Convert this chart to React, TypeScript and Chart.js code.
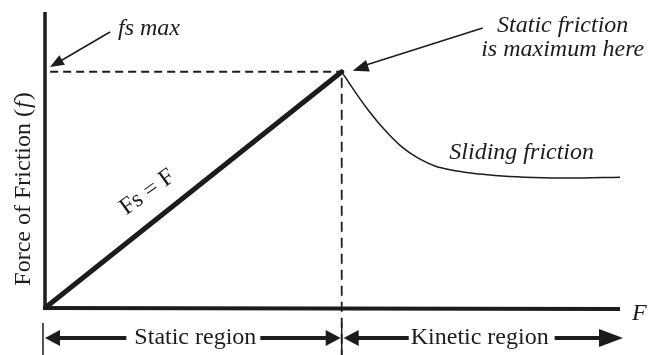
import { useEffect, useRef } from "react";
import { Chart, registerables } from "chart.js";

Chart.register(...registerables);

// ---- data ----
const staticForce = [0, 5.16];
const staticFrictionValues = [0, 7.98];
const slidingForce = [5.16, 5.39, 5.62, 5.91, 6.2, 6.49, 6.78, 7.07, 7.36, 7.65, 7.95, 8.5, 9.1, 10.0];
const slidingFrictionValues = [7.98, 7.31, 6.69, 6.01, 5.45, 5.06, 4.8, 4.66, 4.57, 4.51, 4.46, 4.41, 4.39, 4.42];
const fsMax = 7.98;
const peakForce = 5.16;
const xMax = 10;
const yMax = 10;
const dashBottom = -1.6;

const yAxisTitle = ["Force of Friction (", "f", ")"];
const xAxisTitle = "F";
const fsMaxLabel = "fs max";
const peakLabel = ["Static friction", "is maximum here"];
const slidingLabel = "Sliding friction";
const lineLabel = "Fs = F";
const regionLabels = ["Static region", "Kinetic region"];

const INK = "#1c1c1c";
const SERIF = '"Liberation Serif", "Times New Roman", serif';

function arrowHead(ctx: CanvasRenderingContext2D, tx: number, ty: number, fx: number, fy: number, len: number, half: number) {
  const a = Math.atan2(ty - fy, tx - fx);
  const bx = tx - len * Math.cos(a);
  const by = ty - len * Math.sin(a);
  ctx.beginPath();
  ctx.moveTo(tx, ty);
  ctx.lineTo(bx + half * Math.sin(a), by - half * Math.cos(a));
  ctx.lineTo(bx - half * Math.sin(a), by + half * Math.cos(a));
  ctx.closePath();
  ctx.fill();
}

const decorPlugin = {
  id: "decor",
  afterDatasetsDraw(chart: any) {
    const ctx: CanvasRenderingContext2D = chart.ctx;
    const { left, right, top, bottom } = chart.chartArea;
    const xs = chart.scales.x;
    const ys = chart.scales.y;
    const px = xs.getPixelForValue(peakForce);
    const py = ys.getPixelForValue(fsMax);
    ctx.save();
    ctx.fillStyle = INK;
    ctx.strokeStyle = INK;
    ctx.lineCap = "butt";

    // axes
    ctx.lineWidth = 3.5;
    ctx.beginPath();
    ctx.moveTo(left, top);
    ctx.lineTo(left, bottom + 1);
    ctx.stroke();
    ctx.lineWidth = 4;
    ctx.beginPath();
    ctx.moveTo(left - 2, bottom);
    ctx.lineTo(right, bottom + 1);
    ctx.stroke();

    // x axis title
    ctx.font = `italic 24px ${SERIF}`;
    ctx.textAlign = "left";
    ctx.textBaseline = "alphabetic";
    ctx.fillText(xAxisTitle, right + 12, bottom + 12);

    // y axis title (rotated)
    ctx.save();
    ctx.translate(left - 15, (top + bottom) / 2 + 30);
    ctx.rotate(-Math.PI / 2);
    ctx.font = `24px ${SERIF}`;
    const w0 = ctx.measureText(yAxisTitle[0]).width;
    ctx.font = `italic 24px ${SERIF}`;
    const w1 = ctx.measureText(yAxisTitle[1]).width;
    ctx.font = `24px ${SERIF}`;
    const w2 = ctx.measureText(yAxisTitle[2]).width;
    let cx = -(w0 + w1 + w2) / 2;
    ctx.fillText(yAxisTitle[0], cx, 0);
    cx += w0;
    ctx.font = `italic 24px ${SERIF}`;
    ctx.fillText(yAxisTitle[1], cx + 1, 0);
    cx += w1 + 2;
    ctx.font = `24px ${SERIF}`;
    ctx.fillText(yAxisTitle[2], cx, 0);
    ctx.restore();

    // fs max label + arrow
    ctx.font = `italic 24px ${SERIF}`;
    ctx.textAlign = "left";
    ctx.fillText(fsMaxLabel, left + 73, top + 23);
    ctx.lineWidth = 1.5;
    ctx.beginPath();
    ctx.moveTo(left + 65, top + 20);
    ctx.lineTo(left + 12, top + 51);
    ctx.stroke();
    arrowHead(ctx, left + 5, top + 55, left + 65, top + 20, 14, 5.5);

    // peak label + arrow
    ctx.textAlign = "center";
    ctx.fillText(peakLabel[0], px + 221, top + 20);
    ctx.fillText(peakLabel[1], px + 221, top + 44);
    ctx.beginPath();
    ctx.moveTo(px + 141, top + 16);
    ctx.lineTo(px + 22, py - 6);
    ctx.stroke();
    arrowHead(ctx, px + 11, py - 1, px + 141, top + 16, 16, 6);

    // sliding friction label
    ctx.fillText(slidingLabel, px + 180, ys.getPixelForValue(5.1) + 2);

    // Fs = F label along the static line
    const x0 = xs.getPixelForValue(0), y0 = ys.getPixelForValue(0);
    const ang = Math.atan2(py - y0, px - x0) + 0.05;
    ctx.save();
    ctx.translate(xs.getPixelForValue(1.8) - 1, ys.getPixelForValue(2.79) - 33);
    ctx.rotate(ang);
    ctx.font = `24px ${SERIF}`;
    ctx.textAlign = "center";
    ctx.textBaseline = "middle";
    ctx.fillText(lineLabel, 0, 0);
    ctx.restore();

    // bottom region arrows
    const ay = bottom + 30;
    ctx.lineWidth = 1.5;
    ctx.beginPath();
    ctx.moveTo(left - 2, bottom + 15);
    ctx.lineTo(left - 2, chart.height);
    ctx.moveTo(px, bottom + 15);
    ctx.lineTo(px, chart.height);
    ctx.stroke();

    ctx.font = `24px ${SERIF}`;
    ctx.textAlign = "center";
    ctx.textBaseline = "middle";
    const sMid = (left + px) / 2 + 2;
    const sW = ctx.measureText(regionLabels[0]).width;
    ctx.fillText(regionLabels[0], sMid, ay);
    const kMid = px + 138;
    const kW = ctx.measureText(regionLabels[1]).width;
    ctx.fillText(regionLabels[1], kMid, ay);

    ctx.lineWidth = 4;
    ctx.beginPath();
    ctx.moveTo(left + 10, ay);
    ctx.lineTo(sMid - sW / 2 - 8, ay);
    ctx.moveTo(sMid + sW / 2 + 4, ay);
    ctx.lineTo(px - 12, ay);
    ctx.moveTo(px + 12, ay);
    ctx.lineTo(kMid - kW / 2 - 2, ay);
    ctx.moveTo(kMid + kW / 2 + 6, ay);
    ctx.lineTo(right - 18, ay);
    ctx.stroke();
    arrowHead(ctx, left, ay, left + 20, ay, 15, 8);
    arrowHead(ctx, px - 1, ay, px - 20, ay, 15, 8);
    arrowHead(ctx, px + 2, ay, px + 20, ay, 15, 8);
    arrowHead(ctx, right + 3, ay, right - 20, ay, 24, 9);

    ctx.restore();
  },
};

export default function App() {
  const canvasRef = useRef<HTMLCanvasElement | null>(null);

  useEffect(() => {
    if (!canvasRef.current) return;
    const chart = new Chart(canvasRef.current, {
      type: "line",
      data: {
        datasets: [
          {
            label: "Static friction",
            data: staticForce.map((x, i) => ({ x, y: staticFrictionValues[i] })),
            borderColor: INK,
            borderWidth: 5,
            pointRadius: 0,
            borderCapStyle: "round",
          },
          {
            label: "Sliding friction",
            data: slidingForce.map((x, i) => ({ x, y: slidingFrictionValues[i] })),
            borderColor: INK,
            borderWidth: 1.5,
            pointRadius: 0,
            cubicInterpolationMode: "monotone",
          },
          {
            label: "fs max",
            data: [
              { x: 0.09, y: fsMax },
              { x: peakForce, y: fsMax },
            ],
            borderColor: INK,
            borderWidth: 2,
            borderDash: [8, 5],
            pointRadius: 0,
          },
          {
            label: "boundary",
            data: [
              { x: peakForce, y: fsMax - 0.2 },
              { x: peakForce, y: dashBottom },
            ],
            borderColor: INK,
            borderWidth: 1.8,
            borderDash: [10, 6],
            pointRadius: 0,
            clip: false,
          },
        ] as any,
      },
      options: {
        responsive: false,
        animation: false,
        layout: { padding: { left: 45, right: 35, top: 12, bottom: 47 } },
        plugins: { legend: { display: false }, tooltip: { enabled: false } },
        scales: {
          x: { type: "linear", min: 0, max: xMax, display: false },
          y: { type: "linear", min: 0, max: yMax, display: false },
        },
      },
      plugins: [decorPlugin],
    });
    return () => chart.destroy();
  }, []);

  return (
    <div style={{ position: "fixed", left: 0, top: 0, width: 655, height: 355, background: "#fff" }}>
      <canvas ref={canvasRef} width={655} height={355} style={{ width: 655, height: 355 }} />
    </div>
  );
}
